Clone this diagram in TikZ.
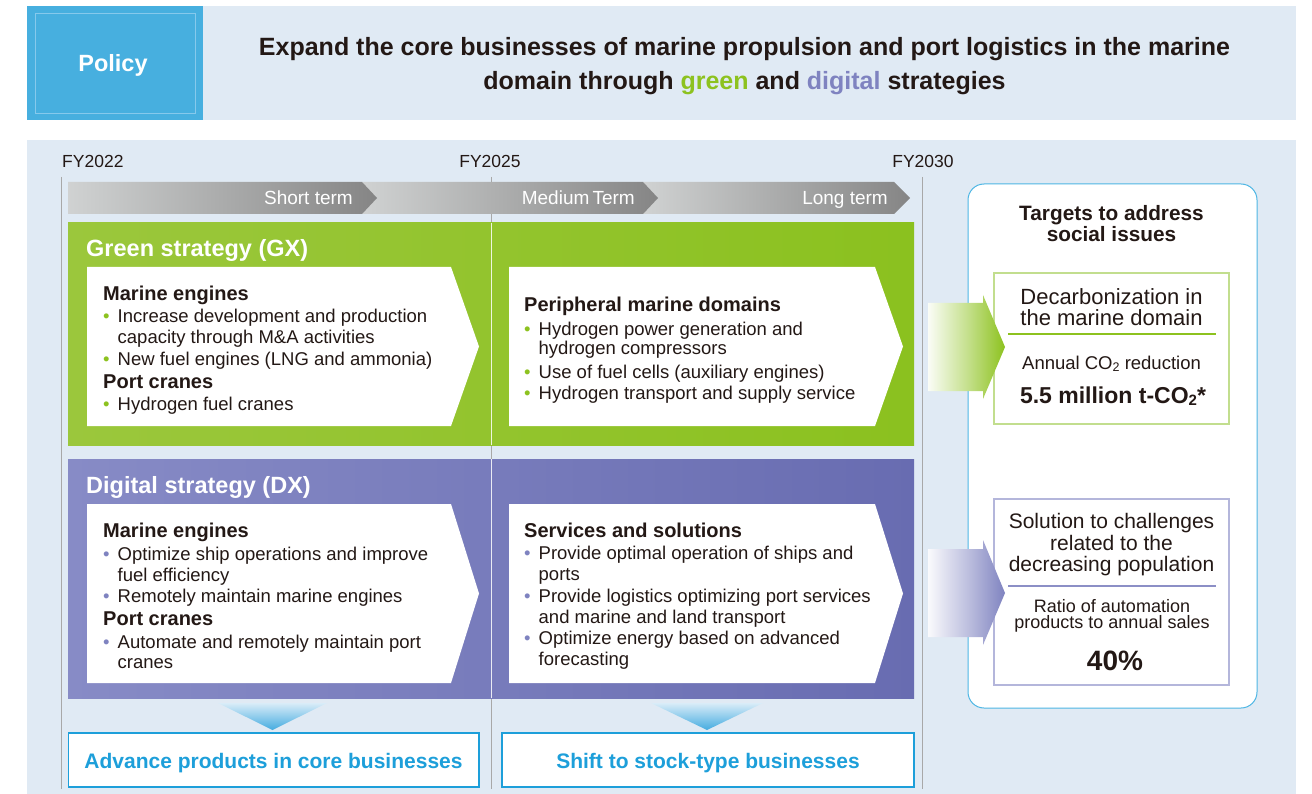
\documentclass[tikz,border=0pt]{standalone}
\usepackage{fontspec}
\setmainfont{Liberation Sans}
\usetikzlibrary{calc}
\definecolor{bgc}{HTML}{E0EAF4}
\definecolor{polc}{HTML}{47AFDF}
\definecolor{polin}{HTML}{86C9EC}
\definecolor{grA}{HTML}{9BC73C}
\definecolor{grB}{HTML}{8BC11F}
\definecolor{puA}{HTML}{878BC6}
\definecolor{puB}{HTML}{686CB1}
\definecolor{txt}{HTML}{231815}
\definecolor{gbul}{HTML}{8DC21F}
\definecolor{pbul}{HTML}{7F83C0}
\definecolor{bluec}{HTML}{1D9FDA}
\definecolor{panelc}{HTML}{4DB6E4}
\definecolor{tgr}{HTML}{C2DE8E}
\definecolor{tgrl}{HTML}{8DC21F}
\definecolor{tpu}{HTML}{B4B6DB}
\definecolor{tpul}{HTML}{8C8FC6}
\definecolor{linec}{HTML}{A8A8A8}
\definecolor{tlA}{HTML}{D0D2D2}
\definecolor{tlB}{HTML}{858585}
\definecolor{triA}{HTML}{D9ECF8}
\definecolor{triB}{HTML}{45ACE0}
\newcommand{\bl}[2]{\makebox[14.5pt][l]{\textcolor{#1}{•}}#2}
\newcommand{\subtwo}[1]{\raisebox{-2.5pt}{\fontsize{#1}{#1}\selectfont 2}}
\tikzset{
  bodytxt/.style={anchor=base west, inner sep=0, text=txt, font=\fontsize{18.5}{22}\selectfont},
  headtxt/.style={anchor=base west, inner sep=0, text=txt, font=\bfseries\fontsize{20}{24}\selectfont},
  strtitle/.style={anchor=base west, inner sep=0, text=white, font=\bfseries\fontsize{23.5}{28}\selectfont},
  fytxt/.style={anchor=base, inner sep=0, text=txt, font=\fontsize{17.5}{20}\selectfont},
  tltxt/.style={anchor=base east, inner sep=0, text=white, font=\fontsize{19}{22}\selectfont},
  ctrtxt/.style={anchor=base, inner sep=0, text=txt, font=\fontsize{21}{24}\selectfont},
  botbox/.style={draw=bluec, line width=1.6pt, fill=white},
  bottxt/.style={anchor=base, inner sep=0, text=bluec, font=\bfseries\fontsize{21}{24}\selectfont},
  vline/.style={draw=linec, line width=1pt},
}
\begin{document}
\begin{tikzpicture}[x=1pt,y=-1pt]
\useasboundingbox (0,0) rectangle (1312,794);
\fill[white] (0,0) rectangle (1312,794);
% policy band
\fill[bgc] (27,6) rectangle (1296,120);
\fill[polc] (27,6) rectangle (203,120);
\draw[polin, line width=0.8pt] (35,13) rectangle (195,113);
\node[anchor=base, inner sep=0, text=white, font=\bfseries\fontsize{23.5}{28}\selectfont] (pol) at (113,72) {Policy};
\node[anchor=base, inner sep=0, text=txt, font=\bfseries\fontsize{25}{28}\selectfont] (tit1) at (744.5,55.7) {Expand the core businesses of marine propulsion and port logistics in the marine};
\node[anchor=base, inner sep=0, text=txt, font=\bfseries\fontsize{25}{28}\selectfont] (tit2) at (744.5,90) {domain through \textcolor{gbul}{green} and \textcolor{pbul}{digital} strategies};
% main background
\fill[bgc] (27,140) rectangle (1296,794);
% vertical lines
\coordinate (l1t) at (61,177); \coordinate (l1b) at (61,789);
\coordinate (l2t) at (491,177); \coordinate (l2b) at (491,789);
\coordinate (l3t) at (922,177); \coordinate (l3b) at (922,789);
\draw[vline] (l1t) -- (l1b);
\draw[vline] (l2t) -- (l2b);
\draw[vline] (l3t) -- (l3b);
\node[anchor=base west, inner sep=0, text=txt, font=\fontsize{17.5}{20}\selectfont] (fy1) at (62,168) {FY2022};
\node[fytxt] (fy2) at (490,168) {FY2025};
\node[fytxt] (fy3) at (923,168) {FY2030};
% timeline
\shade[left color=tlA, right color=tlB] (643,182) -- (894,182) -- (910,198) -- (894,214) -- (643,214) -- cycle;
\shade[left color=tlA, right color=tlB] (362,182) -- (643,182) -- (658,198) -- (643,214) -- (362,214) -- cycle;
\shade[left color=tlA, right color=tlB] (68,182) -- (362,182) -- (377,198) -- (362,214) -- (68,214) -- cycle;
\node[tltxt] (t1) at (353,205) {Short term};
\node[tltxt] (t2) at (635,205) {Medium\,Term};
\node[tltxt] (t3) at (888,205) {Long term};
% green strategy
\shade[left color=grA, right color=grB] (68,223) rectangle (914,445);
\draw[white, line width=1pt, opacity=0.85] (491,223) -- (491,445);
\node[strtitle] (gxt) at (86,256.5) {Green strategy (GX)};
\fill[white] (87,267) -- (451,267) -- (479,346.5) -- (451,426) -- (87,426) -- cycle;
\fill[white] (509,267) -- (875,267) -- (903,346.5) -- (875,426) -- (509,426) -- cycle;
\node[headtxt] (g1h1) at (103,301) {Marine engines};
\node[bodytxt] (g1b1) at (103,323) {\bl{gbul}{Increase development and production}};
\node[bodytxt] (g1b1c) at (117.5,343) {capacity through M\&A activities};
\node[bodytxt] (g1b2) at (103,365) {\bl{gbul}{New fuel engines (LNG and ammonia)}};
\node[headtxt] (g1h2) at (103,388) {Port cranes};
\node[bodytxt] (g1b3) at (103,410) {\bl{gbul}{Hydrogen fuel cranes}};
\node[headtxt] (g2h1) at (524,312) {Peripheral marine domains};
\node[bodytxt] (g2b1) at (524,335) {\bl{gbul}{Hydrogen power generation and}};
\node[bodytxt] (g2b1c) at (538.5,355) {hydrogen compressors};
\node[bodytxt] (g2b2) at (524,378) {\bl{gbul}{Use of fuel cells (auxiliary engines)}};
\node[bodytxt] (g2b3) at (524,399) {\bl{gbul}{Hydrogen transport and supply service}};
% digital strategy
\shade[left color=puA, right color=puB] (68,459) rectangle (914,698);
\draw[white, line width=1pt, opacity=0.85] (491,459) -- (491,698);
\node[strtitle] (dxt) at (86,493) {Digital strategy (DX)};
\fill[white] (87,504) -- (451,504) -- (479,593.5) -- (451,683) -- (87,683) -- cycle;
\fill[white] (509,504) -- (875,504) -- (903,593.5) -- (875,683) -- (509,683) -- cycle;
\node[headtxt] (d1h1) at (103,537) {Marine engines};
\node[bodytxt] (d1b1) at (103,560) {\bl{pbul}{Optimize ship operations and improve}};
\node[bodytxt] (d1b1c) at (117.5,581) {fuel efficiency};
\node[bodytxt] (d1b2) at (103,602) {\bl{pbul}{Remotely maintain marine engines}};
\node[headtxt] (d1h2) at (103,625) {Port cranes};
\node[bodytxt] (d1b3) at (103,648) {\bl{pbul}{Automate and remotely maintain port}};
\node[bodytxt] (d1b3c) at (117.5,668) {cranes};
\node[headtxt] (d2h1) at (524,537) {Services and solutions};
\node[bodytxt] (d2b1) at (524,559) {\bl{pbul}{Provide optimal operation of ships and}};
\node[bodytxt] (d2b1c) at (538.5,580) {ports};
\node[bodytxt] (d2b2) at (524,602) {\bl{pbul}{Provide logistics optimizing port services}};
\node[bodytxt] (d2b2c) at (538.5,623) {and marine and land transport};
\node[bodytxt] (d2b3) at (524,644) {\bl{pbul}{Optimize energy based on advanced}};
\node[bodytxt] (d2b3c) at (538.5,665) {forecasting};
% down triangles
\shade[top color=triA, bottom color=triB] (218,703) -- (327,703) -- (272.5,730) -- cycle;
\shade[top color=triA, bottom color=triB] (651,703) -- (763,703) -- (707,730) -- cycle;
% bottom boxes
\draw[botbox] (68.5,733) rectangle (479,787);
\draw[botbox] (502,733) rectangle (914,787);
\node[bottxt] (bt1) at (273.5,768.5) {Advance products in core businesses};
\node[bottxt] (bt2) at (708,768.5) {Shift to stock-type businesses};
% targets panel
\draw[panelc, line width=1pt, fill=white, rounded corners=16pt] (968,184) rectangle (1257,708);
\node[anchor=base, inner sep=0, text=txt, font=\bfseries\fontsize{20.8}{24}\selectfont] (tg1) at (1111.5,221) {Targets to address};
\node[anchor=base, inner sep=0, text=txt, font=\bfseries\fontsize{20.8}{24}\selectfont] (tg2) at (1111.5,241.5) {social issues};
% green target
\draw[tgr, line width=1.6pt, fill=white] (994,273) rectangle (1229,424);
\node[anchor=base, inner sep=0, text=txt, font=\fontsize{22}{24}\selectfont] (gt1) at (1111.5,305) {Decarbonization in};
\node[anchor=base, inner sep=0, text=txt, font=\fontsize{22}{24}\selectfont] (gt2) at (1111.5,326) {the marine domain};
\draw[tgrl, line width=1.3pt] (1008,334) -- (1216,334);
\node[anchor=base, inner sep=0, text=txt, font=\fontsize{18.5}{22}\selectfont] (gt3) at (1111.5,369) {Annual CO\subtwo{12.5} reduction};
\node[anchor=base, inner sep=0, text=txt, font=\bfseries\fontsize{23}{26}\selectfont] (gt4) at (1113,403) {5.5 million t-CO\subtwo{15}*};
% purple target
\draw[tpu, line width=1.6pt, fill=white] (994,499) rectangle (1229,685);
\node[ctrtxt] (pt1) at (1111.5,528) {Solution to challenges};
\node[ctrtxt] (pt2) at (1111.5,550) {related to the};
\node[ctrtxt] (pt3) at (1111.5,571.5) {decreasing population};
\draw[tpul, line width=1.3pt] (1008,586) -- (1216,586);
\node[anchor=base, inner sep=0, text=txt, font=\fontsize{18}{20}\selectfont] (pt4) at (1112,612) {Ratio of automation};
\node[anchor=base, inner sep=0, text=txt, font=\fontsize{18}{20}\selectfont] (pt5) at (1112,628) {products to annual sales};
\node[anchor=base, inner sep=0, text=txt, font=\bfseries\fontsize{28}{32}\selectfont] (pt6) at (1115,670) {40\%};
% side arrows
\shade[left color=gbul!4!white, right color=gbul, middle color=gbul!50!white] (928,303) -- (983,303) -- (983,295) -- (1005,347) -- (983,399) -- (983,391) -- (928,391) -- cycle;
\shade[left color=pbul!4!white, right color=pbul, middle color=pbul!50!white] (928,549) -- (983,549) -- (983,540) -- (1005,593) -- (983,645) -- (983,637) -- (928,637) -- cycle;
\end{tikzpicture}
\end{document}
